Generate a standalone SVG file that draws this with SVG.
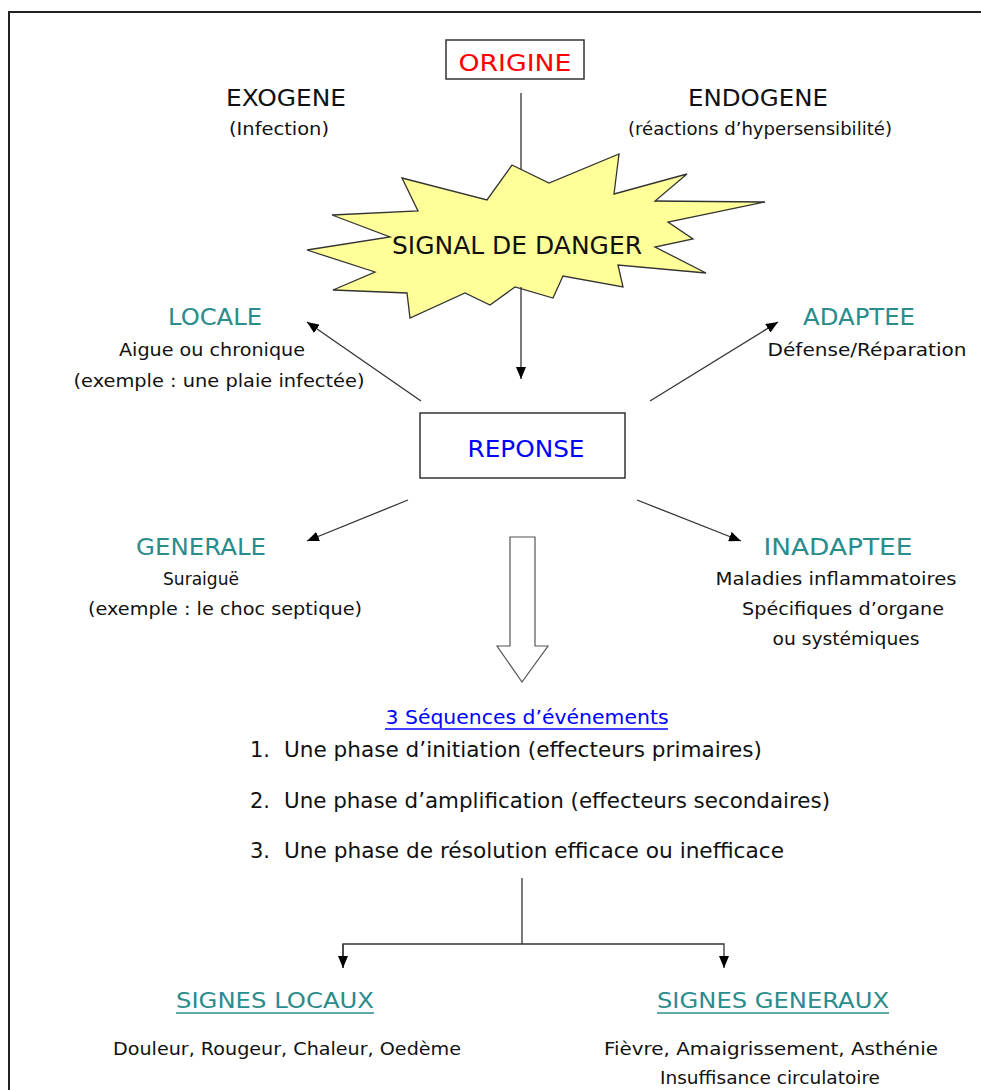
<svg xmlns="http://www.w3.org/2000/svg" width="981" height="1090" viewBox="0 0 981 1090">
<style>
text{font-family:"DejaVu Sans","Liberation Sans",sans-serif;}
.h{font-size:23px;text-anchor:middle;}
.s{font-size:17px;text-anchor:middle;fill:#111;}
.teal{fill:#2b8c8c;}
.l{font-size:21px;fill:#111;}
.box{fill:#fff;stroke:#333;stroke-width:1.5;}
.ln{stroke:#333;stroke-width:1.3;fill:none;}
</style>
<defs>
<marker id="ah" viewBox="0 0 12 10" refX="12" refY="5" markerWidth="12" markerHeight="10" markerUnits="userSpaceOnUse" orient="auto">
<path d="M0,0 L12,5 L0,10 z" fill="#000"/>
</marker>
</defs>
<rect x="0" y="0" width="981" height="1090" fill="#fff"/>
<rect x="9" y="12" width="1100" height="1200" fill="none" stroke="#222" stroke-width="2"/>

<g id="connectors">
<line class="ln" x1="521" y1="93" x2="521" y2="175"/>
</g>

<g id="signal">
<polygon points="402,178 487,200 512,165 549,183 619,154 614,194 687,174 655,201 765,202 668,222 693,239 655,247 706,273 618,265 623,287 563,276 553,298 515,287 490,305 465,293 410,318 407,293 333,290 375,272 307,250 390,237 332,215 418,211" fill="#ffff99" stroke="#333" stroke-width="1.3"/>
<text x="517" y="254" style="font-size:25px;text-anchor:middle" fill="#111" textLength="250" lengthAdjust="spacingAndGlyphs">SIGNAL DE DANGER</text>
</g>

<g id="connectors2">
<line class="ln" x1="521" y1="287" x2="521" y2="379" marker-end="url(#ah)"/>
<line class="ln" x1="421" y1="401" x2="307" y2="322" marker-end="url(#ah)"/>
<line class="ln" x1="650" y1="401" x2="778" y2="322" marker-end="url(#ah)"/>
<line class="ln" x1="408" y1="500" x2="307" y2="541" marker-end="url(#ah)"/>
<line class="ln" x1="637" y1="500" x2="741" y2="541" marker-end="url(#ah)"/>
<polygon points="510,537 535,537 535,646 548,646 522,682 497,646 510,646" fill="#fff" stroke="#555" stroke-width="1.2"/>
<polyline class="ln" points="522,878 522,944"/>
<polyline class="ln" points="343,968 343,944 724,944 724,968" marker-end="url(#ah)"/>
<line class="ln" x1="343" y1="944" x2="343" y2="968" marker-end="url(#ah)"/>
</g>

<g id="origine">
<rect class="box" x="446" y="40" width="138" height="39"/>
<text x="515" y="71" class="h" fill="#ff0000" textLength="113" lengthAdjust="spacingAndGlyphs">ORIGINE</text>
</g>

<g id="exogene">
<text x="286" y="106" class="h" fill="#111" textLength="120" lengthAdjust="spacingAndGlyphs">EXOGENE</text>
<text x="279" y="135" class="s" textLength="100" lengthAdjust="spacingAndGlyphs">(Infection)</text>
</g>

<g id="endogene">
<text x="758" y="106" class="h" fill="#111" textLength="140" lengthAdjust="spacingAndGlyphs">ENDOGENE</text>
<text x="760" y="135" class="s" textLength="264" lengthAdjust="spacingAndGlyphs">(réactions d’hypersensibilité)</text>
</g>

<g id="locale">
<text x="215" y="325" class="h teal" textLength="94" lengthAdjust="spacingAndGlyphs">LOCALE</text>
<text x="212" y="356" class="s" textLength="186" lengthAdjust="spacingAndGlyphs">Aigue ou chronique</text>
<text x="219" y="387" class="s" textLength="291" lengthAdjust="spacingAndGlyphs">(exemple : une plaie infectée)</text>
</g>

<g id="adaptee">
<text x="859" y="325" class="h teal" textLength="112" lengthAdjust="spacingAndGlyphs">ADAPTEE</text>
<text x="867" y="356" class="s" textLength="199" lengthAdjust="spacingAndGlyphs">Défense/Réparation</text>
</g>

<g id="reponse">
<rect class="box" x="420" y="413" width="205" height="65"/>
<text x="526" y="457" class="h" fill="#0000ff" textLength="117" lengthAdjust="spacingAndGlyphs">REPONSE</text>
</g>

<g id="generale">
<text x="201" y="555" class="h teal" textLength="130" lengthAdjust="spacingAndGlyphs">GENERALE</text>
<text x="201" y="585" class="s" textLength="76" lengthAdjust="spacingAndGlyphs">Suraiguë</text>
<text x="225" y="615" class="s" textLength="274" lengthAdjust="spacingAndGlyphs">(exemple : le choc septique)</text>
</g>

<g id="inadaptee">
<text x="838" y="555" class="h teal" textLength="149" lengthAdjust="spacingAndGlyphs">INADAPTEE</text>
<text x="836" y="585" class="s" textLength="241" lengthAdjust="spacingAndGlyphs">Maladies inflammatoires</text>
<text x="843" y="615" class="s" textLength="202" lengthAdjust="spacingAndGlyphs">Spécifiques d’organe</text>
<text x="846" y="645" class="s" textLength="147" lengthAdjust="spacingAndGlyphs">ou systémiques</text>
</g>

<g id="sequences">
<text x="527" y="724" style="font-size:20px;text-anchor:middle" fill="#0000ff" textLength="283" lengthAdjust="spacingAndGlyphs">3 Séquences d’événements</text>
<line x1="385" y1="729" x2="668" y2="729" stroke="#0000ff" stroke-width="1.3"/>
<text x="250" y="757" class="l">1.</text>
<text x="284" y="757" class="l" textLength="478" lengthAdjust="spacingAndGlyphs">Une phase d’initiation (effecteurs primaires)</text>
<text x="250" y="808" class="l">2.</text>
<text x="284" y="808" class="l" textLength="546" lengthAdjust="spacingAndGlyphs">Une phase d’amplification (effecteurs secondaires)</text>
<text x="250" y="858" class="l">3.</text>
<text x="284" y="858" class="l" textLength="500" lengthAdjust="spacingAndGlyphs">Une phase de résolution efficace ou inefficace</text>
</g>

<g id="signes-locaux">
<text x="275" y="1008" class="teal" style="font-size:21px;text-anchor:middle" textLength="198" lengthAdjust="spacingAndGlyphs">SIGNES LOCAUX</text>
<line x1="176" y1="1013" x2="374" y2="1013" stroke="#2b8c8c" stroke-width="1.5"/>
<text x="287" y="1055" class="s" style="font-size:18px" textLength="348" lengthAdjust="spacingAndGlyphs">Douleur, Rougeur, Chaleur, Oedème</text>
</g>

<g id="signes-generaux">
<text x="773" y="1008" class="teal" style="font-size:21px;text-anchor:middle" textLength="232" lengthAdjust="spacingAndGlyphs">SIGNES GENERAUX</text>
<line x1="657" y1="1013" x2="889" y2="1013" stroke="#2b8c8c" stroke-width="1.5"/>
<text x="771" y="1055" class="s" style="font-size:18px" textLength="334" lengthAdjust="spacingAndGlyphs">Fièvre, Amaigrissement, Asthénie</text>
<text x="770" y="1084" class="s" style="font-size:18px" textLength="220" lengthAdjust="spacingAndGlyphs">Insuffisance circulatoire</text>
</g>
</svg>
